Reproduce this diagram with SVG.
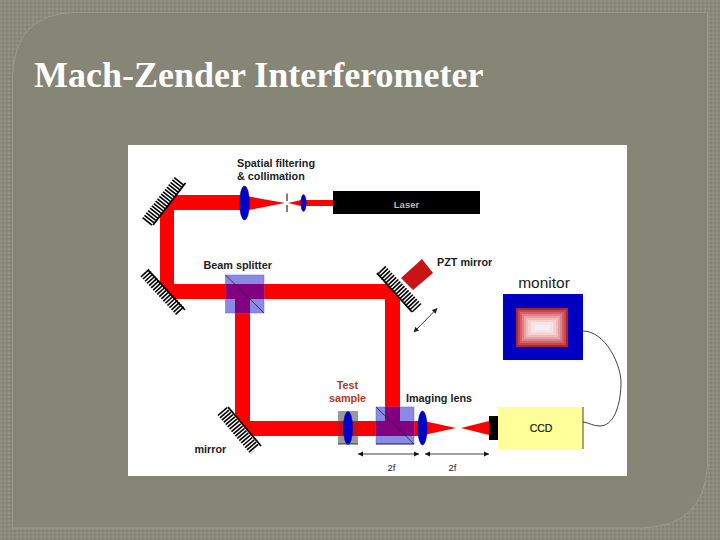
<svg xmlns="http://www.w3.org/2000/svg" width="720" height="540" viewBox="0 0 720 540">
<style>
.l{font-family:"Liberation Sans",Arial,sans-serif;font-size:10.800px;font-weight:bold;fill:#222}
.beam{fill:#f00}
.over{fill:#800080}
.cube{fill:#8a8ae6;stroke:#6a6ac0;stroke-width:.5}
.diag{stroke:#223;stroke-width:.8}
.lens{fill:#0000c8;stroke:#1a1a80;stroke-width:.5}
.hatch{stroke:#000;stroke-width:12;stroke-dasharray:1.600 1.400;fill:none}
.face{stroke:#000;stroke-width:1.800;fill:none}
.dim{stroke:#a0a0a0;stroke-width:2;fill:none}
.head{fill:#111}
</style>
<defs>
<pattern id="dots" width="4" height="4" patternUnits="userSpaceOnUse">
<rect width="4" height="4" fill="#8a8b7a"/>
<rect width="2" height="2" fill="#929383"/>
<rect x="2" y="2" width="2" height="2" fill="#828372"/>
</pattern>
<marker id="a" viewBox="0 0 8 8" refX="7" refY="4" markerWidth="6" markerHeight="6" orient="auto-start-reverse"><path d="M0 0L8 4L0 8Z" fill="#222"/></marker>
</defs>
<rect id="background" width="720" height="540" fill="url(#dots)"/>
<path id="frame" d="M12.500 78Q14 14 74 12.500H707.500V466Q704 526 642 528H12.500Z" fill="#858675" stroke="#9a9b8b" stroke-width="1"/>
<text id="title" x="34" y="87" font-family="'Liberation Serif','Times New Roman',serif" font-size="36" font-weight="bold" fill="#fff">Mach-Zender Interferometer</text>
<rect id="panel" x="128" y="145" width="499" height="331" fill="#fff"/>
<g id="connectors">
<path class="beam" d="M176 195H245V210H174V284H387L400 299V421H423V436H253L235 415V299H175L160 283V215ZM250 299V421H385V299Z" fill-rule="evenodd"/>
<path class="beam" d="M249 196.500L285 203L249 210Z"/>
<path class="beam" d="M288 203L303 199.500V206.500Z"/>
<rect class="beam" x="303" y="200" width="31" height="6"/>
<path class="beam" d="M426 421.500L456 428L426 434.500Z"/>
<path class="beam" d="M461 428L489 421V435Z"/>
<path d="M287 193.500V201M287 205V212" stroke="#000" stroke-width="1" fill="none"/>
<path d="M583 331C605 331 622 365 621 385C620 410 612 426 600 426C593 426 590 423 583 422" stroke="#111" stroke-width=".8" fill="none"/>
<path d="M414 332L437 308.500" stroke="#222" stroke-width=".9" fill="none" marker-start="url(#a)" marker-end="url(#a)"/>
<g id="dims">
<path class="dim" d="M358 454H419M425 454H489"/>
<path class="head" d="M358 454L363 451.500V456.500ZM419 454L414 451.500V456.500ZM425 454L430 451.500V456.500ZM489 454L484 451.500V456.500Z"/>
</g>
</g>
<g id="mirror-top"><path class="hatch" d="M146.800 222L180 180"/><path class="face" d="M153 225L185.500 183"/></g>
<g id="mirror-left"><path class="hatch" d="M144.500 272.500L180.500 311.500" style="stroke-width:11"/><path class="face" d="M148 270L185 310"/></g>
<g id="mirror-bottom"><path class="hatch" d="M222 411L255 450"/><path class="face" d="M228 407L261 446"/></g>
<g id="pzt-mirror"><path class="hatch" d="M381 270L417.500 308.500"/><path class="face" d="M377 273L412 312"/><path d="M422 259L433 273L413 290L401 278Z" fill="#c81414"/></g>
<g id="laser"><rect x="333" y="191" width="147" height="23" fill="#000"/><text x="406.500" y="207.500" text-anchor="middle" class="l" style="font-size:9.500px;fill:#bbb">Laser</text></g>
<g id="lens-collimation"><ellipse class="lens" cx="244.500" cy="203" rx="5" ry="17"/><ellipse class="lens" cx="303.500" cy="203" rx="2.700" ry="8.500"/></g>
<g id="beam-splitter-1">
<rect class="cube" x="225.500" y="275" width="38.500" height="38"/>
<rect class="over" x="225.500" y="284" width="38.500" height="15"/>
<rect class="over" x="235" y="299" width="15" height="14"/>
<path class="diag" d="M225.500 275L264 313"/>
</g>
<g id="beam-splitter-2">
<rect class="cube" x="376" y="407" width="38" height="37"/>
<rect class="over" x="376" y="421" width="38" height="15"/>
<rect class="over" x="385" y="407" width="15" height="14"/>
<path class="diag" d="M376 407L414 444"/>
<path d="M376 444H414" stroke="#111" stroke-width=".8"/>
</g>
<g id="test-sample"><rect x="338" y="411" width="20" height="33" fill="#9a9a9a"/><rect x="338" y="421" width="20" height="15" fill="#c81020"/><path d="M338 444H358" stroke="#111" stroke-width=".8"/><ellipse class="lens" cx="348" cy="428" rx="4.700" ry="16.500"/></g>
<g id="imaging-lens"><ellipse class="lens" cx="422.500" cy="428" rx="4.700" ry="17"/></g>
<g id="ccd"><rect x="489" y="416" width="9" height="24" fill="#000"/><rect x="498" y="407" width="85" height="42.500" fill="#ffff99"/><path d="M583 407V449" stroke="#111" stroke-width=".8"/><text x="541" y="432" text-anchor="middle" class="l" style="font-weight:normal;font-size:10.500px;fill:#111;stroke:#111;stroke-width:.2">CCD</text></g>
<g id="monitor">
<rect x="503" y="294" width="80" height="66" fill="#0000c0"/>
<rect x="516" y="308" width="52" height="39" fill="#a02838"/>
<rect x="518" y="310" width="48" height="35" fill="#c44"/>
<rect x="520" y="312" width="44" height="31" fill="#d56068"/>
<rect x="522" y="314" width="40" height="27" fill="#e08088"/>
<rect x="524" y="316" width="36" height="23" fill="#e8a0a4"/>
<rect x="526" y="318" width="32" height="19" fill="#eebcbe"/>
<rect x="528" y="320" width="28" height="15" fill="#f2d2d2"/>
<rect x="531" y="322" width="22" height="11" fill="#f5e2e2"/>
<rect x="534" y="324.500" width="16" height="6" fill="#f6eeee"/>
<text x="544" y="288" text-anchor="middle" font-family="'Liberation Sans',Arial,sans-serif" font-size="15.500px" fill="#222">monitor</text>
</g>
<g id="labels">
<text class="l" x="237" y="166.500">Spatial filtering</text>
<text class="l" x="237" y="179.500">&amp; collimation</text>
<text class="l" x="203.500" y="269">Beam splitter</text>
<text class="l" x="437" y="266">PZT mirror</text>
<text class="l" x="194.500" y="452.500">mirror</text>
<text class="l" x="347.500" y="388.500" text-anchor="middle" style="fill:#b03a20">Test</text>
<text class="l" x="347.500" y="401.500" text-anchor="middle" style="fill:#b03a20">sample</text>
<text class="l" x="406" y="401.500">Imaging lens</text>
<text class="l" x="391.500" y="471" text-anchor="middle" style="font-weight:normal;font-size:9.500px">2f</text>
<text class="l" x="452.500" y="471" text-anchor="middle" style="font-weight:normal;font-size:9.500px">2f</text>
</g>
</svg>
